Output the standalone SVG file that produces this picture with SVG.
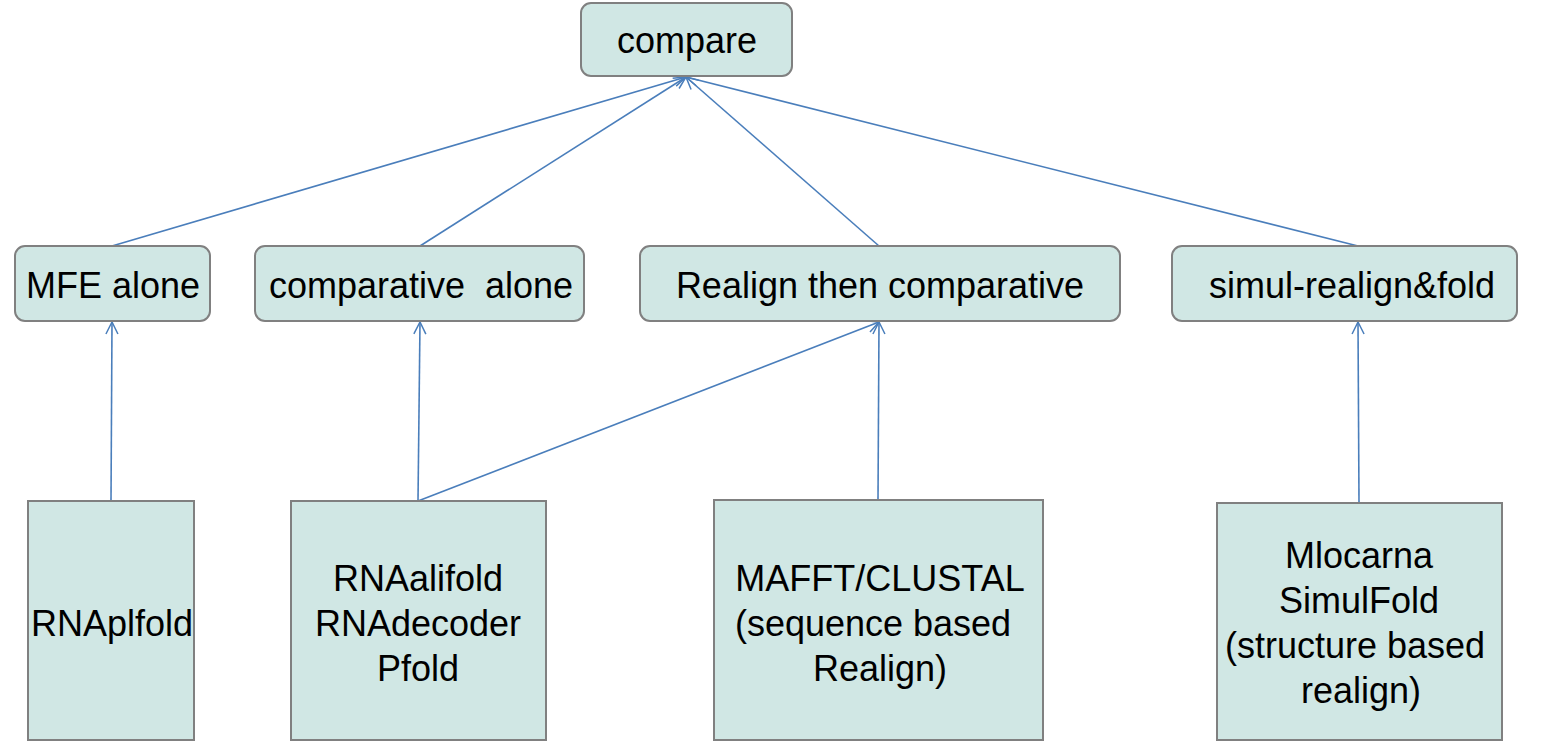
<svg xmlns="http://www.w3.org/2000/svg" width="1547" height="742" viewBox="0 0 1547 742">
<defs>
<marker id="arr" viewBox="0 0 14 14" refX="13" refY="7" markerWidth="14" markerHeight="14" markerUnits="userSpaceOnUse" orient="auto">
<path d="M1,1 L13,7 L1,13" fill="none" stroke="#4a7ebb" stroke-width="1.5"/>
</marker>
<style>
.box{fill:#d0e7e4;stroke:#808080;stroke-width:2}
.t{font-family:"Liberation Sans",Arial,sans-serif;font-size:36px;fill:#000;text-anchor:middle}
.e{stroke:#4a7ebb;stroke-width:1.6;fill:none;marker-end:url(#arr)}
</style>
</defs>
<rect width="1547" height="742" fill="#fff"/>
<g id="connectors">
<line class="e" x1="112" y1="246" x2="686" y2="77"/>
<line class="e" x1="420" y1="246" x2="686" y2="77"/>
<line class="e" x1="879" y1="246" x2="686" y2="77"/>
<line class="e" x1="1358" y1="246" x2="686" y2="77"/>
<line class="e" x1="111" y1="501" x2="112" y2="322"/>
<line class="e" x1="418" y1="501" x2="420" y2="322"/>
<line class="e" x1="418" y1="501" x2="879" y2="322"/>
<line class="e" x1="878" y1="500" x2="879" y2="322"/>
<line class="e" x1="1359" y1="503" x2="1358" y2="322"/>
</g>
<g id="compare"><rect class="box" x="581" y="3" width="211" height="73" rx="10"/><text class="t" x="687" y="53">compare</text></g>
<g id="mfe"><rect class="box" x="15" y="246" width="195" height="75" rx="10"/><text class="t" x="113" y="298">MFE alone</text></g>
<g id="comparative"><rect class="box" x="255" y="246" width="329" height="75" rx="10"/><text class="t" x="421" y="298" xml:space="preserve">comparative  alone</text></g>
<g id="realign"><rect class="box" x="640" y="246" width="480" height="75" rx="10"/><text class="t" x="880" y="298">Realign then comparative</text></g>
<g id="simul"><rect class="box" x="1172" y="246" width="345" height="75" rx="10"/><text class="t" x="1352" y="298">simul-realign&amp;fold</text></g>
<g id="rnaplfold"><rect class="box" x="28" y="501" width="166" height="239"/><text class="t" x="112" y="636">RNAplfold</text></g>
<g id="rnaalifold"><rect class="box" x="291" y="501" width="255" height="239"/><text class="t" x="418" y="591">RNAalifold</text><text class="t" x="418" y="636">RNAdecoder</text><text class="t" x="418" y="681">Pfold</text></g>
<g id="mafft"><rect class="box" x="714" y="500" width="329" height="240"/><text class="t" x="880" y="591">MAFFT/CLUSTAL</text><text class="t" x="873" y="636">(sequence based</text><text class="t" x="880" y="681">Realign)</text></g>
<g id="mlocarna"><rect class="box" x="1217" y="503" width="285" height="237"/><text class="t" x="1359" y="568">Mlocarna</text><text class="t" x="1359" y="613">SimulFold</text><text class="t" x="1355" y="658">(structure based</text><text class="t" x="1361" y="703">realign)</text></g>
</svg>
